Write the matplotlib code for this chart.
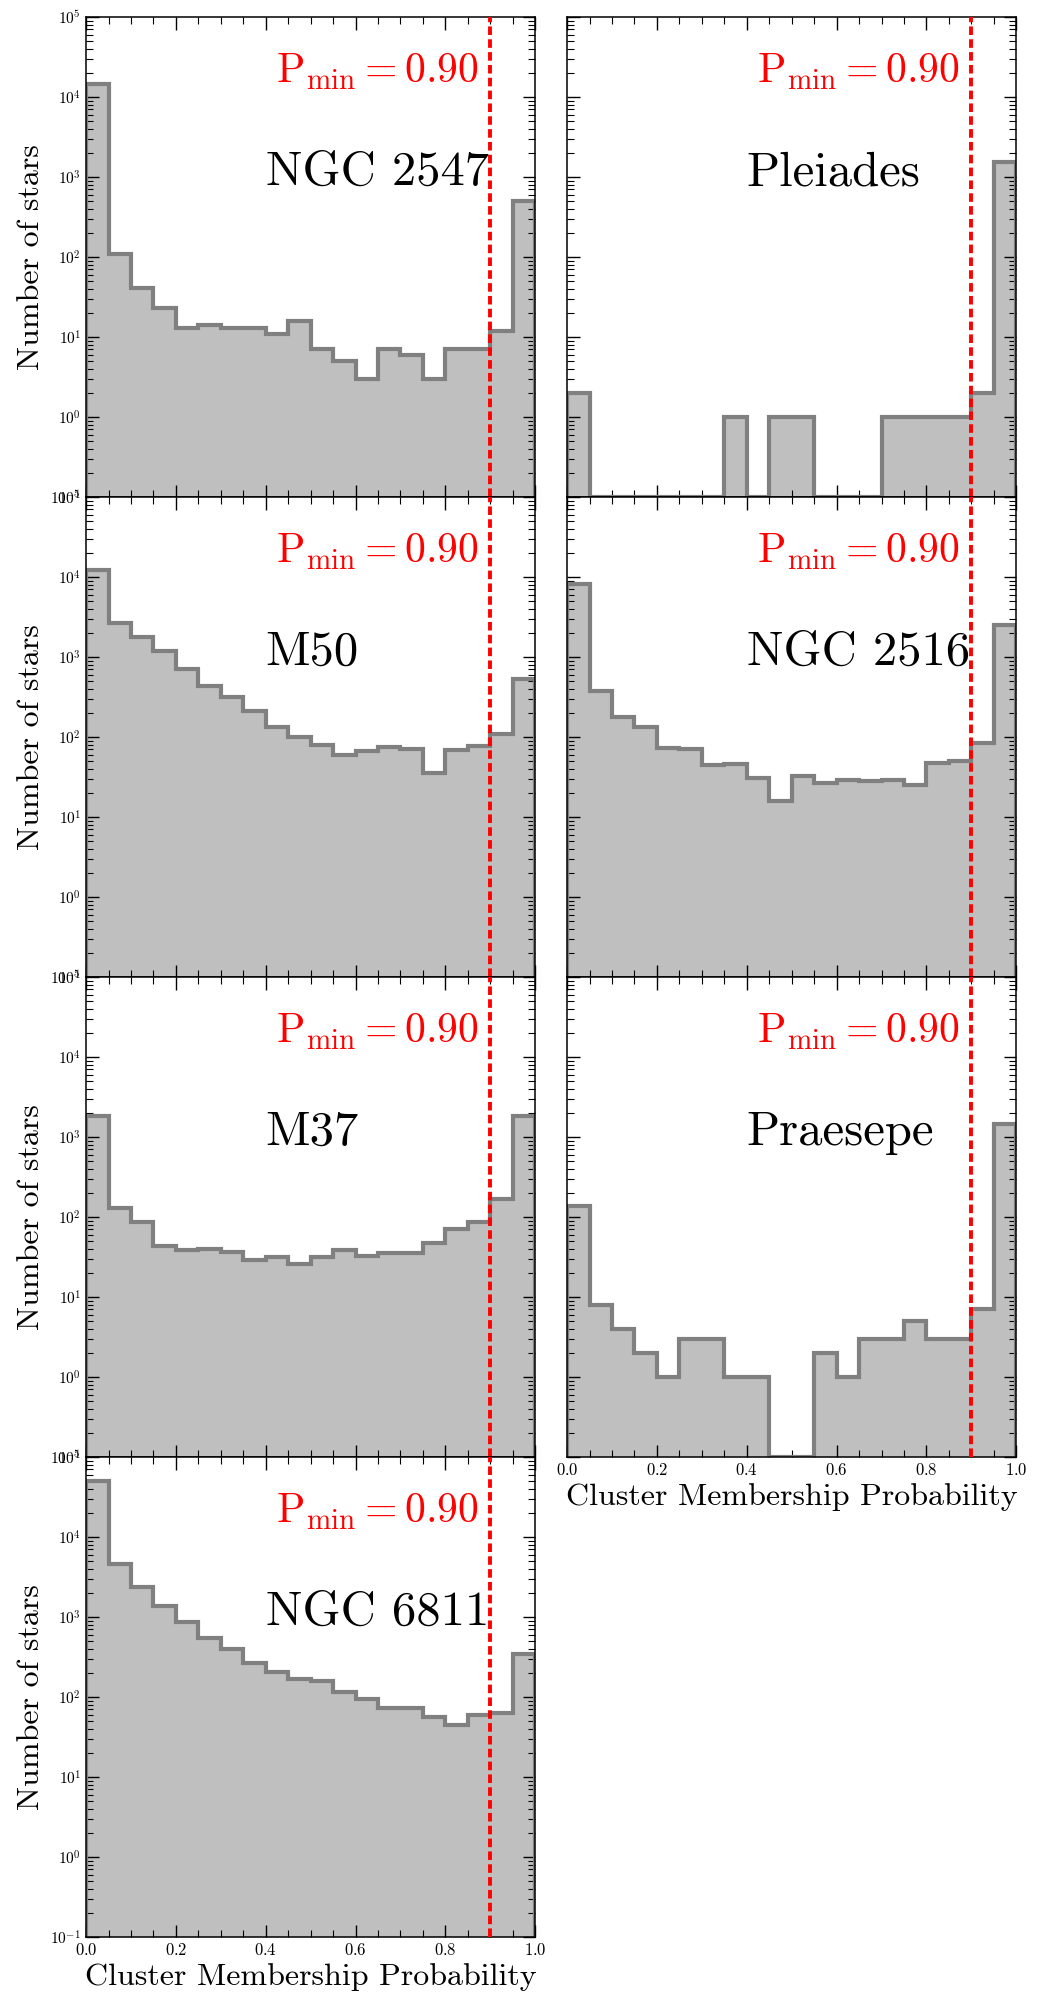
import matplotlib
matplotlib.use("Agg")
import matplotlib.pyplot as plt
import numpy as np

plt.rcParams["font.family"] = "serif"
plt.rcParams["font.serif"] = ["cmr10", "DejaVu Serif"]
plt.rcParams["mathtext.fontset"] = "cm"
plt.rcParams["axes.formatter.use_mathtext"] = True
plt.rcParams["axes.linewidth"] = 1.1

# 20 bins of width 0.05 in membership probability
edges = np.linspace(0.0, 1.0, 21)
p_min = 0.90

ngc2547 = [14700, 110, 41, 23, 13, 14, 13, 13, 11, 16, 7, 5, 3, 7, 6, 3, 7, 7, 12, 500]
pleiades = [2, 0, 0, 0, 0, 0, 0, 1, 0, 1, 1, 0, 0, 0, 1, 1, 1, 1, 2, 1540]
m50 = [12400, 2660, 1780, 1200, 708, 430, 316, 213, 135, 100, 79, 60, 67, 74, 71, 36, 68, 77, 110, 530]
ngc2516 = [8180, 379, 180, 135, 72, 71, 45, 46, 31, 16, 33, 27, 29, 28, 29, 25, 48, 50, 85, 2490]
m37 = [1810, 128, 87, 44, 39, 40, 36, 29, 32, 26, 32, 39, 33, 35, 35, 47, 71, 87, 168, 1810]
praesepe = [137, 8, 4, 2, 1, 3, 3, 1, 1, 0, 0, 2, 1, 3, 3, 5, 3, 3, 7, 1440]
ngc6811 = [50200, 4580, 2400, 1380, 865, 552, 396, 264, 207, 168, 160, 115, 95, 73, 73, 56, 45, 59, 63, 349]

names = ["NGC 2547", "Pleiades", "M50", "NGC 2516", "M37", "Praesepe", "NGC 6811"]
counts_all = [ngc2547, pleiades, m50, ngc2516, m37, praesepe, ngc6811]

ymin, ymax = 1e-1, 1e5

fig, axes = plt.subplots(4, 2, figsize=(10.37, 20.07), dpi=100)
fig.subplots_adjust(left=0.083, right=0.98, top=0.9915, bottom=0.0349,
                    wspace=0.071, hspace=0.0)
axes[3, 1].remove()

for k, (name, counts) in enumerate(zip(names, counts_all)):
    row, col = divmod(k, 2)
    ax = axes[row, col]
    counts = np.asarray(counts, dtype=float)
    shown = np.where(counts > 0, counts, ymin)  # empty bins sit on the bottom edge

    ax.set_yscale("log")
    ax.stairs(shown, edges, baseline=ymin, fill=True, color="#bfbfbf", zorder=1)
    ax.stairs(shown, edges, baseline=ymin, color="#808080", lw=3.0, zorder=2)
    ax.axvline(p_min, color="red", lw=2.8, ls=(0, (2.2, 1.1)), zorder=3)

    ax.set_xlim(0, 1)
    ax.set_ylim(ymin, ymax)
    ax.set_xticks(np.arange(0, 1.01, 0.2))
    ax.set_xticks(np.arange(0, 1.01, 0.05), minor=True)
    ax.tick_params(which="both", direction="in", top=True, right=True)
    ax.tick_params(which="major", length=9, width=1.0, labelsize=12)
    ax.tick_params(which="minor", length=5, width=0.8)
    ax.tick_params(axis="y", which="major", labelsize=11)

    # x in data units, y as a fraction of the panel height
    trans = ax.get_xaxis_transform()
    ax.text(0.4, 0.65, name, transform=trans,
            ha="left", va="baseline", fontsize=35)
    ax.text(0.875, 0.8625, r"$\rm P_{min} = 0.90$", transform=trans,
            ha="right", va="baseline", fontsize=30, color="red")

    if col == 0:
        ax.set_ylabel("Number of stars", fontsize=23)
    else:
        ax.tick_params(axis="y", labelleft=False)

    if (row, col) in [(3, 0), (2, 1)]:
        ax.set_xlabel("Cluster Membership Probability", fontsize=23)
    else:
        ax.tick_params(axis="x", labelbottom=False)

fig.savefig("out.png", dpi=100)
